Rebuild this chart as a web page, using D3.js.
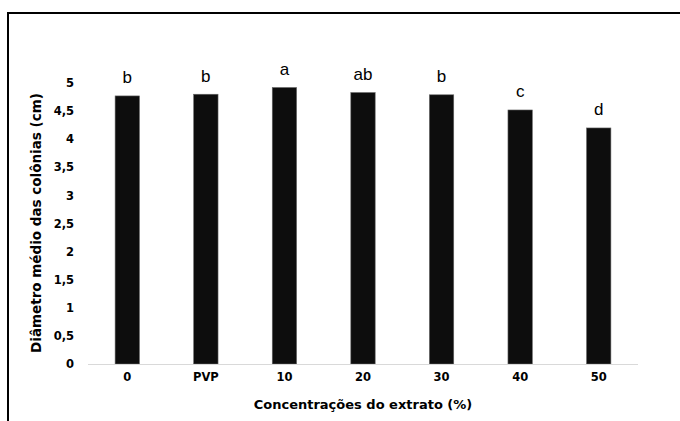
<!DOCTYPE html>
<html>
<head>
<meta charset="utf-8">
<script src="https://cdn.jsdelivr.net/npm/d3@7"></script>
<style>
  html, body { margin: 0; padding: 0; background: #fff; overflow: hidden; }
  svg { display: block; }
</style>
</head>
<body>
<svg id="chart" width="680" height="421"></svg>
<script>
// data
var categories = ['0', 'PVP', '10', '20', '30', '40', '50'];
var values = [4.77, 4.80, 4.92, 4.83, 4.79, 4.52, 4.20];
var letters = ['b', 'b', 'a', 'ab', 'b', 'c', 'd'];
var yTicks = [0, 0.5, 1, 1.5, 2, 2.5, 3, 3.5, 4, 4.5, 5];

var svg = d3.select('#chart');

// outer frame (only left and top edges fall inside the picture)
svg.append('rect')
  .attr('x', 8)
  .attr('y', 13)
  .attr('width', 700)
  .attr('height', 440)
  .attr('fill', 'none')
  .attr('stroke', '#000')
  .attr('stroke-width', 2);

var x = d3.scaleBand()
  .domain(categories)
  .range([88, 638])
  .paddingInner(0.69)
  .paddingOuter(0.345);

var y = d3.scaleLinear()
  .domain([0, 5])
  .range([364, 83]);

var bold = '"DejaVu Sans", sans-serif';

// y tick labels, no axis line
var yAxis = svg.append('g')
  .attr('transform', 'translate(74,0)')
  .call(d3.axisLeft(y).tickValues(yTicks).tickSize(0).tickPadding(0)
    .tickFormat(d => String(d).replace('.', ',')));

yAxis.select('.domain').remove();
yAxis.selectAll('text')
  .attr('font-family', bold)
  .attr('font-weight', 'bold')
  .attr('font-size', 11.5)
  .attr('fill', '#000');

// bars
svg.append('g').selectAll('rect')
  .data(values)
  .enter().append('rect')
  .attr('x', (d, i) => x(categories[i]))
  .attr('y', d => y(d))
  .attr('width', x.bandwidth())
  .attr('height', d => y(0) - y(d))
  .attr('fill', '#0d0d0d')
  .attr('stroke', '#666')
  .attr('stroke-width', 0.6);

// baseline
svg.append('line')
  .attr('x1', x.range()[0])
  .attr('x2', x.range()[1])
  .attr('y1', y(0) + 0.5)
  .attr('y2', y(0) + 0.5)
  .attr('stroke', '#d9d9d9')
  .attr('stroke-width', 1);

// x tick labels
var xAxis = svg.append('g')
  .attr('transform', `translate(0,${y(0)})`)
  .call(d3.axisBottom(x).tickSize(0).tickPadding(9));

xAxis.select('.domain').remove();
xAxis.selectAll('text')
  .attr('font-family', bold)
  .attr('font-weight', 'bold')
  .attr('font-size', 11.5)
  .attr('fill', '#000');

// significance letters
svg.append('g').selectAll('text')
  .data(values)
  .enter().append('text')
  .attr('x', (d, i) => x(categories[i]) + x.bandwidth() / 2)
  .attr('y', d => y(d) - 12.5)
  .attr('text-anchor', 'middle')
  .attr('font-family', '"Liberation Sans", Arial, sans-serif')
  .attr('font-size', 17)
  .attr('fill', '#000')
  .text((d, i) => letters[i]);

// axis titles
svg.append('text')
  .attr('x', 363)
  .attr('y', 409)
  .attr('text-anchor', 'middle')
  .attr('font-family', bold)
  .attr('font-weight', 'bold')
  .attr('font-size', 13)
  .text('Concentrações do extrato (%)');

svg.append('text')
  .attr('transform', 'translate(41,223) rotate(-90)')
  .attr('text-anchor', 'middle')
  .attr('font-family', bold)
  .attr('font-weight', 'bold')
  .attr('font-size', 13.5)
  .text('Diâmetro médio das colônias (cm)');
</script>
</body>
</html>
